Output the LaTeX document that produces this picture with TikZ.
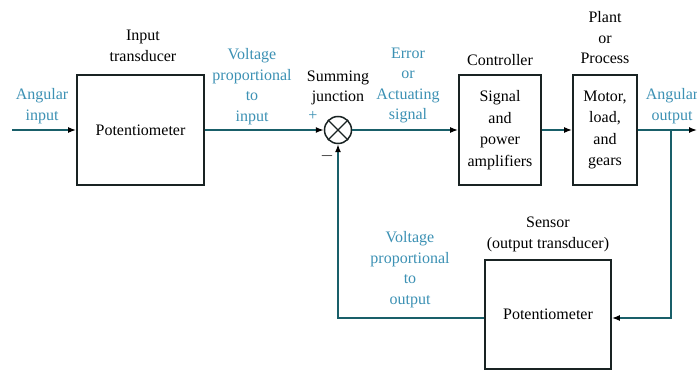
\documentclass[tikz,border=0pt]{standalone}
\usepackage{fontspec}
\setmainfont{Liberation Serif}
\usetikzlibrary{arrows.meta,calc}
\definecolor{lblue}{RGB}{60,145,180}
\definecolor{lteal}{RGB}{25,95,105}
\definecolor{bdark}{RGB}{25,35,35}
\tikzset{
  blk/.style={draw=bdark,line width=1.8pt,inner sep=0pt,align=center,font=\fontsize{16}{21.5}\selectfont},
  lbl/.style={align=center,inner sep=0pt,font=\fontsize{16}{20.5}\selectfont},
  blbl/.style={lbl,text=lblue},
  conn/.style={draw=lteal,line width=1.4pt},
  arr/.style={conn,-{Latex[length=8pt,width=6pt,color=black]}},
}
\begin{document}
\begin{tikzpicture}[x=1pt,y=-1pt]
\useasboundingbox (0,0) rectangle (697,371);
\fill[white] (0,0) rectangle (697,371);
% blocks
\node[blk,minimum width=127pt,minimum height=110pt] (inbox) at (140.5,130) {Potentiometer};
\node[blk,minimum width=82pt,minimum height=110pt] (ctrl) at (500,130) {Signal\\and\\power\\amplifiers};
\node[blk,minimum width=64pt,minimum height=110pt] (plant) at (605,130) {Motor,\\load,\\and\\gears};
\node[blk,minimum width=126pt,minimum height=109pt] (sensor) at (548,314.5) {Potentiometer};
\node[draw=bdark,line width=1.5pt,circle,minimum size=27pt,inner sep=0pt] (sum) at (338,130) {};
\draw[bdark,line width=1.3pt] (sum.north west) -- (sum.south east) (sum.north east) -- (sum.south west);
% coordinates
\coordinate (ain) at (12,130);
\coordinate (aout) at (697,130);
\coordinate (br) at (671,130);
\coordinate (brd) at (671,318);
\coordinate (fbl) at (338,318);
% connectors
\draw[arr] (ain) -- (inbox.west);
\draw[arr] (inbox.east) -- (sum.west);
\draw[arr] (sum.east) -- (ctrl.west);
\draw[arr] (ctrl.east) -- (plant.west);
\draw[arr] (plant.east) -- (aout);
\draw[arr] (br) -- (brd) -- (sensor.east |- brd);
\draw[arr] (sensor.west |- fbl) -- (fbl) -- (sum.south);
% labels
\node[lbl] (lin) at (143,46) {Input\\transducer};
\node[blbl] (lvin) at (252,86.5) {Voltage\\proportional\\to\\input};
\node[blbl] (lang) at (42,106) {Angular\\input};
\node[lbl] (lsum) at (338,88) {Summing\\junction};
\node[lbl,text=lblue] (lplus) at (313,116) {+};
\node[lbl] (lminus) at (327,156) {$-$};
\node[blbl] (lerr) at (408,85.5) {Error\\or\\Actuating\\signal};
\node[lbl] (lctrl) at (500,60) {Controller};
\node[lbl] (lplant) at (605,38) {Plant\\or\\Process};
\node[blbl] (laout) at (672,106) {Angular\\output};
\node[lbl] (lsens) at (548,234.5) {Sensor\\(output transducer)};
\node[blbl] (lvout) at (410,269.5) {Voltage\\proportional\\to\\output};
\end{tikzpicture}
\end{document}
